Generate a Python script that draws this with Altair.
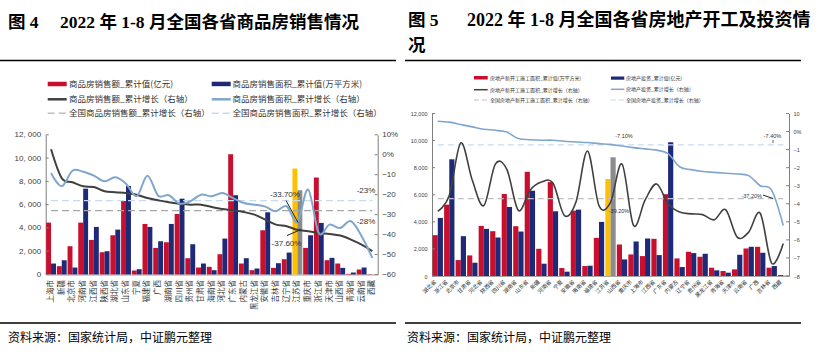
import altair as alt
import pandas as pd

CJK = "Noto Sans CJK SC"
NUM = "Liberation Sans"
RED = "#C8102E"
NAVY = "#1E2A78"
YEL = "#FFC000"
GRY = "#8C8C8C"
BLK = "#404040"
BLU = "#7EA6CE"
DGR = "#A6A6A6"
DBL = "#C6DBEF"

# ---------------- left chart data (图4) ----------------
left_prov = ["上海市", "新疆", "北京市", "河南省", "江西省", "陕西省", "湖北省", "山东省", "宁夏", "福建省",
             "广西", "湖南省", "四川省", "贵州省", "甘肃省", "海南省", "河北省", "广东省", "内蒙古", "黑龙江省",
             "安徽省", "吉林省", "辽宁省", "江苏省", "重庆市", "浙江省", "天津市", "山西省", "青海省", "云南省", "西藏"]
left_sales = [4457, 714, 2429, 4457, 2971, 1914, 3371, 6314, 343, 4343, 2286, 2771, 5200, 1400, 600, 657,
              1743, 10330, 943, 371, 3800, 571, 1314, 9100, 2286, 8330, 1229, 943, 57, 429, 29]
left_area = [943, 1229, 600, 7371, 4086, 2000, 3857, 7600, 457, 4086, 2857, 4343, 6514, 2600, 943, 371,
             3086, 6807, 1400, 514, 5343, 971, 1886, 7236, 3371, 4430, 1429, 571, 171, 600, 5]
left_sales_g = [2.8, -11.7, -13.8, -15.8, -16.2, -18.3, -18.8, -19.2, -20.0, -21.7, -22.8, -23.8, -24.5,
                -25.0, -25.0, -26.2, -27.2, -27.8, -28.7, -30.0, -32.5, -35.0, -35.8, -37.6, -38.3, -39.2,
                -39.7, -40.5, -42.5, -45.0, -48.3]
left_area_g = [-9.2, -15.8, -8.0, -8.5, -10.5, -13.3, -11.3, -14.5, -20.8, -10.5, -20.5, -20.3, -24.5,
               -23.3, -20.0, -20.8, -19.2, -21.7, -24.2, -25.0, -26.0, -28.3, -25.8, -33.7, -17.5, -39.2,
               -35.0, -36.7, -33.3, -40.8, -51.7]
left_hl = "江苏省"
nat_sales_g = -28.0
nat_area_g = -23.0

# ---------------- right chart data (图5) ----------------
right_prov = ["湖北省", "浙江省", "北京市", "甘肃省", "河北省", "陕西省", "四川省", "湖南省", "山东省", "新疆",
              "河南省", "宁夏", "安徽省", "海南省", "福建省", "江苏省", "山西省", "重庆市", "上海市", "江西省",
              "广东省", "内蒙古", "辽宁省", "贵州省", "黑龙江省", "青海省", "天津市", "云南省", "广西", "吉林省", "西藏"]
right_newstart = [3015, 5270, 1176, 1520, 3700, 3309, 6054, 3676, 7696, 2010, 6936, 588, 4828, 735, 2819,
                  7157, 2328, 1593, 1470, 2745, 6044, 1299, 1789, 1422, 613, 368, 490, 2034, 2157, 613, 74]
right_invest = [4289, 8620, 2941, 980, 3480, 2843, 5098, 3284, 6299, 907, 4779, 319, 4902, 760, 3995,
                8765, 1225, 2549, 2770, 1544, 9868, 662, 1691, 1642, 417, 245, 1569, 2157, 1716, 735, 20]
right_ns_g = [-44.1, -35.4, -6.3, -27.0, -41.0, -18.0, -21.0, -43.7, -32.6, -28.0, -28.5, -46.5, -39.0,
              -10.8, -41.0, -39.2, -18.0, -52.0, -38.0, -29.0, -40.0, -44.6, -45.6, -46.0, -48.9, -43.3,
              -58.5, -55.7, -45.2, -73.0, -62.0]
right_inv_g = [5.7, 5.2, 3.9, 2.6, 1.3, 0.7, -0.3, -3.9, -4.5, -4.8, -4.8, -5.4, -5.8, -6.1, -6.7, -7.1,
               -8.0, -8.9, -9.6, -10.3, -12.2, -19.5, -21.1, -22.1, -22.6, -23.1, -23.5, -24.4, -30.0,
               -32.6, -52.0]
right_hl = "江苏省"
nat_ns_g = -37.2
nat_inv_g = -7.4

left_y_ticks = [0, 2000, 4000, 6000, 8000, 10000, 12000]
left_r_ticks = [10, 0, -10, -20, -30, -40, -50, -60]
right_y_ticks = [0, 2000, 4000, 6000, 8000, 10000, 12000]
right_r_ticks = [10, 0, -10, -20, -30, -40, -50, -60, -70, -80]

# ---------------- geometry ----------------
W, H = 817, 354
LX0, LX1 = 45.7, 377.7
LYB, LYT = 274.5, 134.8
RX0, RX1 = 432.0, 789.0
RYB, RYT = 276.0, 113.5

ONE = pd.DataFrame({"a": [0]})


def lxs():
    return alt.Scale(domain=left_prov, range=[LX0, LX1], paddingInner=0.08, paddingOuter=0.04)


def rxs():
    return alt.Scale(domain=right_prov, range=[RX0, RX1], paddingInner=0.1, paddingOuter=0.05)


def lyb():
    return alt.Scale(domain=[0, 12000], range=[LYB, LYT], nice=False)


def lyl():
    return alt.Scale(domain=[-60, 10], range=[LYB, LYT], nice=False, zero=False)


def ryb():
    return alt.Scale(domain=[0, 12000], range=[RYB, RYT], nice=False)


def ryl():
    return alt.Scale(domain=[-80, 10], range=[RYB, RYT], nice=False, zero=False)


def T(s, x, y, size, font=CJK, weight="normal", color="#000000", align="left", baseline="middle"):
    return alt.Chart(ONE).mark_text(text=s, font=font, fontSize=size, fontWeight=weight, color=color,
                                    align=align, baseline=baseline).encode(x=alt.value(x), y=alt.value(y))


def R(x1, y1, x2, y2, color="#000000", width=1.0, dash=None):
    kw = dict(color=color, strokeWidth=width)
    if dash:
        kw["strokeDash"] = dash
    return alt.Chart(ONE).mark_rule(**kw).encode(x=alt.value(x1), y=alt.value(y1),
                                                 x2=alt.value(x2), y2=alt.value(y2))


def B(x1, y1, x2, y2, color):
    return alt.Chart(ONE).mark_rect(color=color).encode(x=alt.value(x1), y=alt.value(y1),
                                                        x2=alt.value(x2), y2=alt.value(y2))


layers = []

# ================= LEFT CHART =================
rows = []
for p, s, a in zip(left_prov, left_sales, left_area):
    hl = p == left_hl
    rows.append({"prov": p, "s": "1", "v": s, "k": "hs" if hl else "sales"})
    rows.append({"prov": p, "s": "2", "v": a, "k": "ha" if hl else "area"})
df_lb = pd.DataFrame(rows)

layers.append(
    alt.Chart(df_lb).mark_bar().encode(
        x=alt.X("prov:N", scale=lxs(), sort=left_prov,
                axis=alt.Axis(orient="bottom", offset=-(H - LYB), labelAngle=-90, labelFont=CJK,
                              labelFontSize=7.5, labelColor="#333333", labelPadding=5, ticks=False,
                              domainColor="#A6A6A6", title=None, labelOverlap=False, labelLimit=200)),
        xOffset=alt.XOffset("s:N", scale=alt.Scale(domain=["1", "2"])),
        y=alt.Y("v:Q", scale=lyb(),
                axis=alt.Axis(orient="left", offset=-LX0, values=left_y_ticks,
                              labelExpr="replace(format(datum.value, ','), ',', ', ')",
                              labelFont=NUM, labelFontSize=8, labelColor="#404040", ticks=False,
                              domainColor="#808080", labelPadding=5, title=None, grid=False)),
        color=alt.Color("k:N", scale=alt.Scale(domain=["sales", "area", "hs", "ha"],
                                               range=[RED, NAVY, YEL, GRY]), legend=None),
    )
)

df_l = pd.DataFrame({"prov": left_prov, "sg": left_sales_g, "ag": left_area_g,
                     "ns": [nat_sales_g] * len(left_prov), "na": [nat_area_g] * len(left_prov)})

layers.append(alt.Chart(df_l).mark_line(color=DBL, strokeWidth=1.3, strokeDash=[7, 4]).encode(
    x=alt.X("prov:N", scale=lxs(), axis=None), y=alt.Y("na:Q", scale=lyl(), axis=None)))
layers.append(alt.Chart(df_l).mark_line(color=DGR, strokeWidth=1.3, strokeDash=[7, 4]).encode(
    x=alt.X("prov:N", scale=lxs(), axis=None), y=alt.Y("ns:Q", scale=lyl(), axis=None)))
layers.append(alt.Chart(df_l).mark_line(color=BLK, strokeWidth=2, interpolate="cardinal").encode(
    x=alt.X("prov:N", scale=lxs(), axis=None),
    y=alt.Y("sg:Q", scale=lyl(),
            axis=alt.Axis(orient="right", offset=LX1 - W, values=left_r_ticks,
                          labelExpr="datum.value == 10 ? '10%' : (datum.value == 0 ? '0%' : format(datum.value, 'd'))",
                          labelFont=NUM, labelFontSize=8, labelColor="#404040", ticks=False,
                          domainColor="#808080", labelPadding=4, title=None, grid=False))))
layers.append(alt.Chart(df_l).mark_line(color=BLU, strokeWidth=2, interpolate="cardinal").encode(
    x=alt.X("prov:N", scale=lxs(), axis=None), y=alt.Y("ag:Q", scale=lyl(), axis=None)))

# inward ticks
layers.append(alt.Chart(pd.DataFrame({"v": left_y_ticks})).mark_rule(color="#808080").encode(
    y=alt.Y("v:Q", scale=lyb(), axis=None), x=alt.value(LX0), x2=alt.value(LX0 + 3)))
layers.append(alt.Chart(pd.DataFrame({"v": left_r_ticks})).mark_rule(color="#808080").encode(
    y=alt.Y("v:Q", scale=lyl(), axis=None), x=alt.value(LX1 - 3), x2=alt.value(LX1)))

# annotations
layers += [
    T("-33.70%", 285, 195, 8, font=NUM, color="#333333", align="center"),
    R(286, 200.5, 298, 222.5, color="#222222", width=1),
    T("-37.60%", 286.5, 243.5, 8, font=NUM, color="#333333", align="center"),
    R(287, 235.5, 301, 229.5, color="#222222", width=1),
    T("-23%", 366, 190.5, 8, font=NUM, color="#333333", align="center"),
    T("-28%", 366, 221.5, 8, font=NUM, color="#333333", align="center"),
]

# legend (left)
layers += [
    B(47.7, 81.7, 66.7, 86.2, RED),
    T("商品房销售额_累计值(亿元)", 69, 84, 8.5, color="#333333"),
    R(47.7, 99.3, 66.7, 99.3, color=BLK, width=2.5),
    T("商品房销售额_累计增长（右轴）", 69, 99.3, 8.5, color="#333333"),
    R(47.7, 113.3, 66.7, 113.3, color="#BFBFBF", width=1.5, dash=[7, 4]),
    T("全国商品房销售额_累计增长（右轴）", 69, 113.3, 8.5, color="#333333"),
    B(211.7, 81.7, 230.7, 86.2, NAVY),
    T("商品房销售面积_累计值(万平方米)", 232.5, 84, 8.5, color="#333333"),
    R(211.7, 99.3, 230.7, 99.3, color=BLU, width=2.5),
    T("商品房销售面积_累计增长（右轴）", 232.5, 99.3, 8.5, color="#333333"),
    R(211.7, 113.3, 230.7, 113.3, color=DBL, width=1.5, dash=[7, 4]),
    T("全国商品房销售面积_累计增长（右轴）", 232.5, 113.3, 8.5, color="#333333"),
]

# ================= RIGHT CHART =================
rows = []
for p, s, a in zip(right_prov, right_newstart, right_invest):
    hl = p == right_hl
    rows.append({"prov": p, "s": "1", "v": s, "k": "rhs" if hl else "rns"})
    rows.append({"prov": p, "s": "2", "v": a, "k": "rha" if hl else "rinv"})
df_rb = pd.DataFrame(rows)

layers.append(
    alt.Chart(df_rb).mark_bar().encode(
        x=alt.X("prov:N", scale=rxs(), sort=right_prov,
                axis=alt.Axis(orient="bottom", offset=-(H - RYB), labelAngle=-45, labelFont=CJK,
                              labelFontSize=5.5, labelColor="#333333", labelPadding=3, labelOffset=-4,
                              ticks=False, domainColor="#A6A6A6", title=None, labelOverlap=False)),
        xOffset=alt.XOffset("s:N", scale=alt.Scale(domain=["1", "2"])),
        y=alt.Y("v:Q", scale=ryb(),
                axis=alt.Axis(orient="left", offset=-RX0, values=right_y_ticks,
                              labelExpr="format(datum.value, ',')",
                              labelFont=NUM, labelFontSize=5.5, labelColor="#404040", ticks=False,
                              domainColor="#808080", labelPadding=5, title=None, grid=False)),
        color=alt.Color("k:N", scale=alt.Scale(domain=["rns", "rinv", "rhs", "rha"],
                                               range=[RED, NAVY, YEL, GRY]), legend=None),
    )
)

df_r = pd.DataFrame({"prov": right_prov, "ng": right_ns_g, "ig": right_inv_g,
                     "nn": [nat_ns_g] * len(right_prov), "ni": [nat_inv_g] * len(right_prov)})

layers.append(alt.Chart(df_r).mark_line(color=DBL, strokeWidth=1.2, strokeDash=[6, 4]).encode(
    x=alt.X("prov:N", scale=rxs(), axis=None), y=alt.Y("ni:Q", scale=ryl(), axis=None)))
layers.append(alt.Chart(df_r).mark_line(color="#BFBFBF", strokeWidth=1.2, strokeDash=[6, 4]).encode(
    x=alt.X("prov:N", scale=rxs(), axis=None), y=alt.Y("nn:Q", scale=ryl(), axis=None)))
layers.append(alt.Chart(df_r).mark_line(color=BLK, strokeWidth=1.6, interpolate="cardinal").encode(
    x=alt.X("prov:N", scale=rxs(), axis=None),
    y=alt.Y("ng:Q", scale=ryl(),
            axis=alt.Axis(orient="right", offset=RX1 - W, values=right_r_ticks,
                          labelExpr="datum.value == 10 ? '10' : (datum.value == 0 ? '0%' : format(datum.value / 10, 'd'))",
                          labelFont=NUM, labelFontSize=5.5, labelColor="#404040", ticks=False,
                          domainColor="#808080", labelPadding=4, title=None, grid=False))))
layers.append(alt.Chart(df_r).mark_line(color=BLU, strokeWidth=1.6, interpolate="cardinal").encode(
    x=alt.X("prov:N", scale=rxs(), axis=None), y=alt.Y("ig:Q", scale=ryl(), axis=None)))

layers.append(alt.Chart(pd.DataFrame({"v": right_y_ticks})).mark_rule(color="#808080").encode(
    y=alt.Y("v:Q", scale=ryb(), axis=None), x=alt.value(RX0), x2=alt.value(RX0 + 3)))
layers.append(alt.Chart(pd.DataFrame({"v": right_r_ticks})).mark_rule(color="#808080").encode(
    y=alt.Y("v:Q", scale=ryl(), axis=None), x=alt.value(RX1 - 3), x2=alt.value(RX1)))

layers += [
    T("-7.10%", 624, 135.8, 5.5, font=NUM, color="#333333", align="center"),
    T("-7.40%", 772.5, 135.5, 5.5, font=NUM, color="#333333", align="center"),
    R(773, 140, 773, 143, color="#333333", width=0.8),
    T("-39.20%", 619, 210.5, 5.5, font=NUM, color="#333333", align="center"),
    T("-37.20%", 751.7, 195.8, 5.5, font=NUM, color="#333333", align="center"),
    R(763, 195, 773, 198.5, color="#222222", width=1),
]

# legend (right)
layers += [
    B(474, 76, 487.7, 79.5, RED),
    T("房地产新开工施工面积_累计值(万平方米)", 490, 77.8, 5, color="#333333"),
    R(474, 89.7, 487.7, 89.7, color=BLK, width=1.5),
    T("房地产新开工施工面积_累计增长（右轴）", 490, 89.7, 5, color="#333333"),
    R(474, 100, 487.7, 100, color="#BFBFBF", width=1.2, dash=[5, 3]),
    T("全国房地产新开工施工面积_累计增长（右轴）", 490, 100, 5, color="#333333"),
    B(611, 76.5, 624.3, 79.7, NAVY),
    T("房地产投资_累计值(亿元)", 626, 77.8, 5, color="#333333"),
    R(611, 89.3, 624.3, 89.3, color=BLU, width=1.5),
    T("房地产投资_累计增长（右轴）", 626, 89.3, 5, color="#333333"),
    R(611, 100, 624.3, 100, color=DBL, width=1.2, dash=[5, 3]),
    T("全国房地产投资_累计增长（右轴）", 626, 100, 5, color="#333333"),
]

# ================= titles, rules, sources =================
TF = "Liberation Serif, Noto Sans CJK SC"
TS = 17.5
layers += [
    T("图 4", 8, 23, TS, font=TF, weight="bold"),
    T("2022 年 1-8 月全国各省商品房销售情况", 60, 23, TS, font=TF, weight="bold"),
    T("图 5", 408, 21, TS, font=TF, weight="bold"),
    T("2022 年 1-8 月全国各省房地产开工及投资情", 467, 21, TS + 0.5, font=TF, weight="bold"),
    T("况", 408, 46, TS, font=TF, weight="bold"),
    R(0, 60.5, 396, 60.5, width=1.5),
    R(405, 60.5, 801, 60.5, width=1.5),
    R(0, 323, 396, 323, width=1.5),
    R(405, 323, 801, 323, width=1.5),
    T("资料来源：国家统计局，中证鹏元整理", 8, 338, 12, color="#000000"),
    T("资料来源：国家统计局，中证鹏元整理", 407, 338, 12, color="#000000"),
]

chart = alt.layer(*layers).resolve_scale(
    x="independent", y="independent", color="independent", xOffset="independent"
).properties(
    width=W, height=H, autosize=alt.AutoSizeParams(type="none"), padding=0, background="white"
).configure_view(stroke=None)

chart.save("out.html", embed_options={"renderer": "svg", "actions": False})
